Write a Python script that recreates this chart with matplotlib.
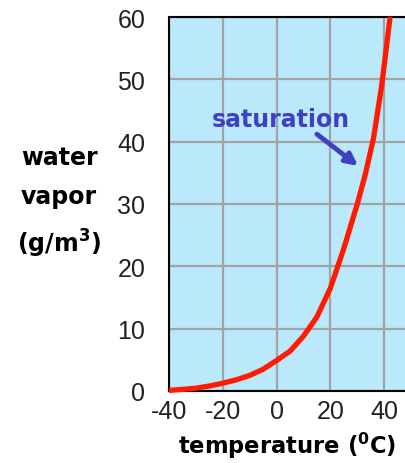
import matplotlib
matplotlib.use("Agg")
import matplotlib.pyplot as plt

# saturation vapour density
temps = [-40, -35, -30, -25, -20, -15, -10, -5, 0, 5, 10, 15, 20, 25, 30, 33, 36, 39, 42.2]
vapor = [0.1, 0.25, 0.45, 0.8, 1.25, 1.8, 2.5, 3.5, 4.9, 6.4, 8.8, 11.9, 16.5, 22.9,
         30.0, 34.8, 40.5, 48.8, 60.0]

xticks = [-40, -20, 0, 20, 40]
yticks = [0, 10, 20, 30, 40, 50, 60]

plt.rcParams['font.family'] = ['Liberation Sans', 'DejaVu Sans']
plt.rcParams['axes.unicode_minus'] = False
plt.rcParams['mathtext.fontset'] = 'custom'
plt.rcParams['mathtext.rm'] = 'DejaVu Sans:bold'
plt.rcParams['mathtext.bf'] = 'DejaVu Sans:bold'

W, H = 406, 464
fig = plt.figure(figsize=(W / 100, H / 100), dpi=100)
ax = fig.add_axes([169 / W, 1 - 392 / H, (W - 169) / W, (392 - 18) / H])

ax.set_facecolor('#b9e9fb')
ax.plot(temps, vapor, color='#ff1a00', lw=3.8, solid_capstyle='butt',
        solid_joinstyle='round', zorder=3, clip_on=False)

ax.set_xlim(-40, 48.1)
ax.set_ylim(0, 60)
ax.set_xticks(xticks)
ax.set_yticks(yticks)
ax.grid(True, color='#a3a3a3', lw=1.6)
ax.set_axisbelow(True)
ax.tick_params(length=0, labelsize=18, colors='#222222')
ax.tick_params(axis='y', pad=17)
ax.tick_params(axis='x', pad=6)
for s in ['left', 'top', 'bottom']:
    ax.spines[s].set_color('black')
    ax.spines[s].set_linewidth(1.5)
ax.spines['right'].set_visible(False)

bold = dict(family='DejaVu Sans', fontweight='bold')
fig.text(287 / W, 1 - 446 / H, r'temperature ($^{0}$C)', fontsize=16.3,
         ha='center', va='center', **bold)
fig.text(59 / W, 1 - 203 / H, 'water\nvapor\n(g/m$^{3}$)', fontsize=17,
         ha='center', va='center', linespacing=1.75, **bold)

blue = '#4040c4'
ax.text(1.6, 43.6, 'saturation', fontsize=17, color=blue, ha='center', va='center', **bold)
ax.annotate('', xy=(30.3, 36.1), xytext=(15.0, 41.2),
            arrowprops=dict(arrowstyle='-|>,head_length=0.7,head_width=0.35',
                            color=blue, lw=3.5, shrinkA=0, shrinkB=0))

fig.savefig('out.png', dpi=100)
